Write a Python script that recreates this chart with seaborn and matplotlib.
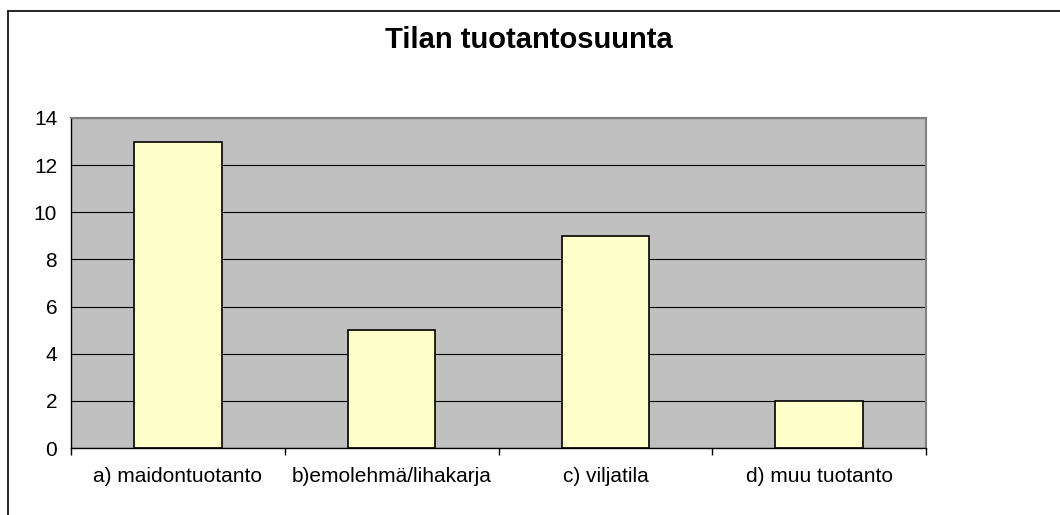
import pandas as pd
import matplotlib.pyplot as plt
import seaborn as sns
from matplotlib.lines import Line2D

sns.set_theme(style="white")
plt.rcParams["font.family"] = ["Liberation Sans", "DejaVu Sans"]
plt.rcParams["text.color"] = "black"

# Chart data
categories = ["a) maidontuotanto", "b)emolehmä/lihakarja", "c) viljatila", "d) muu tuotanto"]
counts = [13, 5, 9, 2]
y_ticks = [0, 2, 4, 6, 8, 10, 12, 14]
title = "Tilan tuotantosuunta"

df = pd.DataFrame({"suunta": categories, "lkm": counts})

fig = plt.figure(figsize=(10.6, 5.15), dpi=100)
ax = fig.add_axes([0.067, 0.130, 0.8066, 0.641])
ax.set_facecolor("#C0C0C0")

ax.set_axisbelow(True)
ax.yaxis.grid(True, color="black", linewidth=0.8)
ax.xaxis.grid(False)

sns.barplot(data=df, x="suunta", y="lkm", color="#FFFFCC", saturation=1,
            edgecolor="black", linewidth=1.2, width=0.41, ax=ax)

ax.set_xlim(-0.5, len(categories) - 0.5)
ax.set_ylim(0, 14)
ax.set_yticks(y_ticks)
ax.set_xlabel("")
ax.set_ylabel("")

# category ticks between bars, labels centred
ax.set_xticks([i - 0.5 for i in range(len(categories) + 1)], minor=True)
ax.tick_params(axis="x", which="major", length=0, pad=14, labelsize=15, labelcolor="black")
ax.tick_params(axis="x", which="minor", length=5, width=1, color="black", direction="out")
ax.tick_params(axis="y", which="major", length=5, width=1, color="black", direction="out",
               pad=5, labelsize=15, labelcolor="black")
ax.tick_params(axis="x", bottom=True, which="both")

for side in ["left", "bottom"]:
    ax.spines[side].set_color("black")
    ax.spines[side].set_linewidth(1)
for side in ["top", "right"]:
    ax.spines[side].set_color("#808080")
    ax.spines[side].set_linewidth(1.5)

fig.text(0.4986, 0.923, title, ha="center", va="center", fontsize=21,
         fontweight="bold", color="black")

# chart area border (top and left edges visible)
top = 1 - 11 / 515
left = 8 / 1060
fig.add_artist(Line2D([left, 1], [top, top], color="black", linewidth=1.2))
fig.add_artist(Line2D([left, left], [0, top], color="black", linewidth=1.2))

fig.savefig("out.png", dpi=100)
